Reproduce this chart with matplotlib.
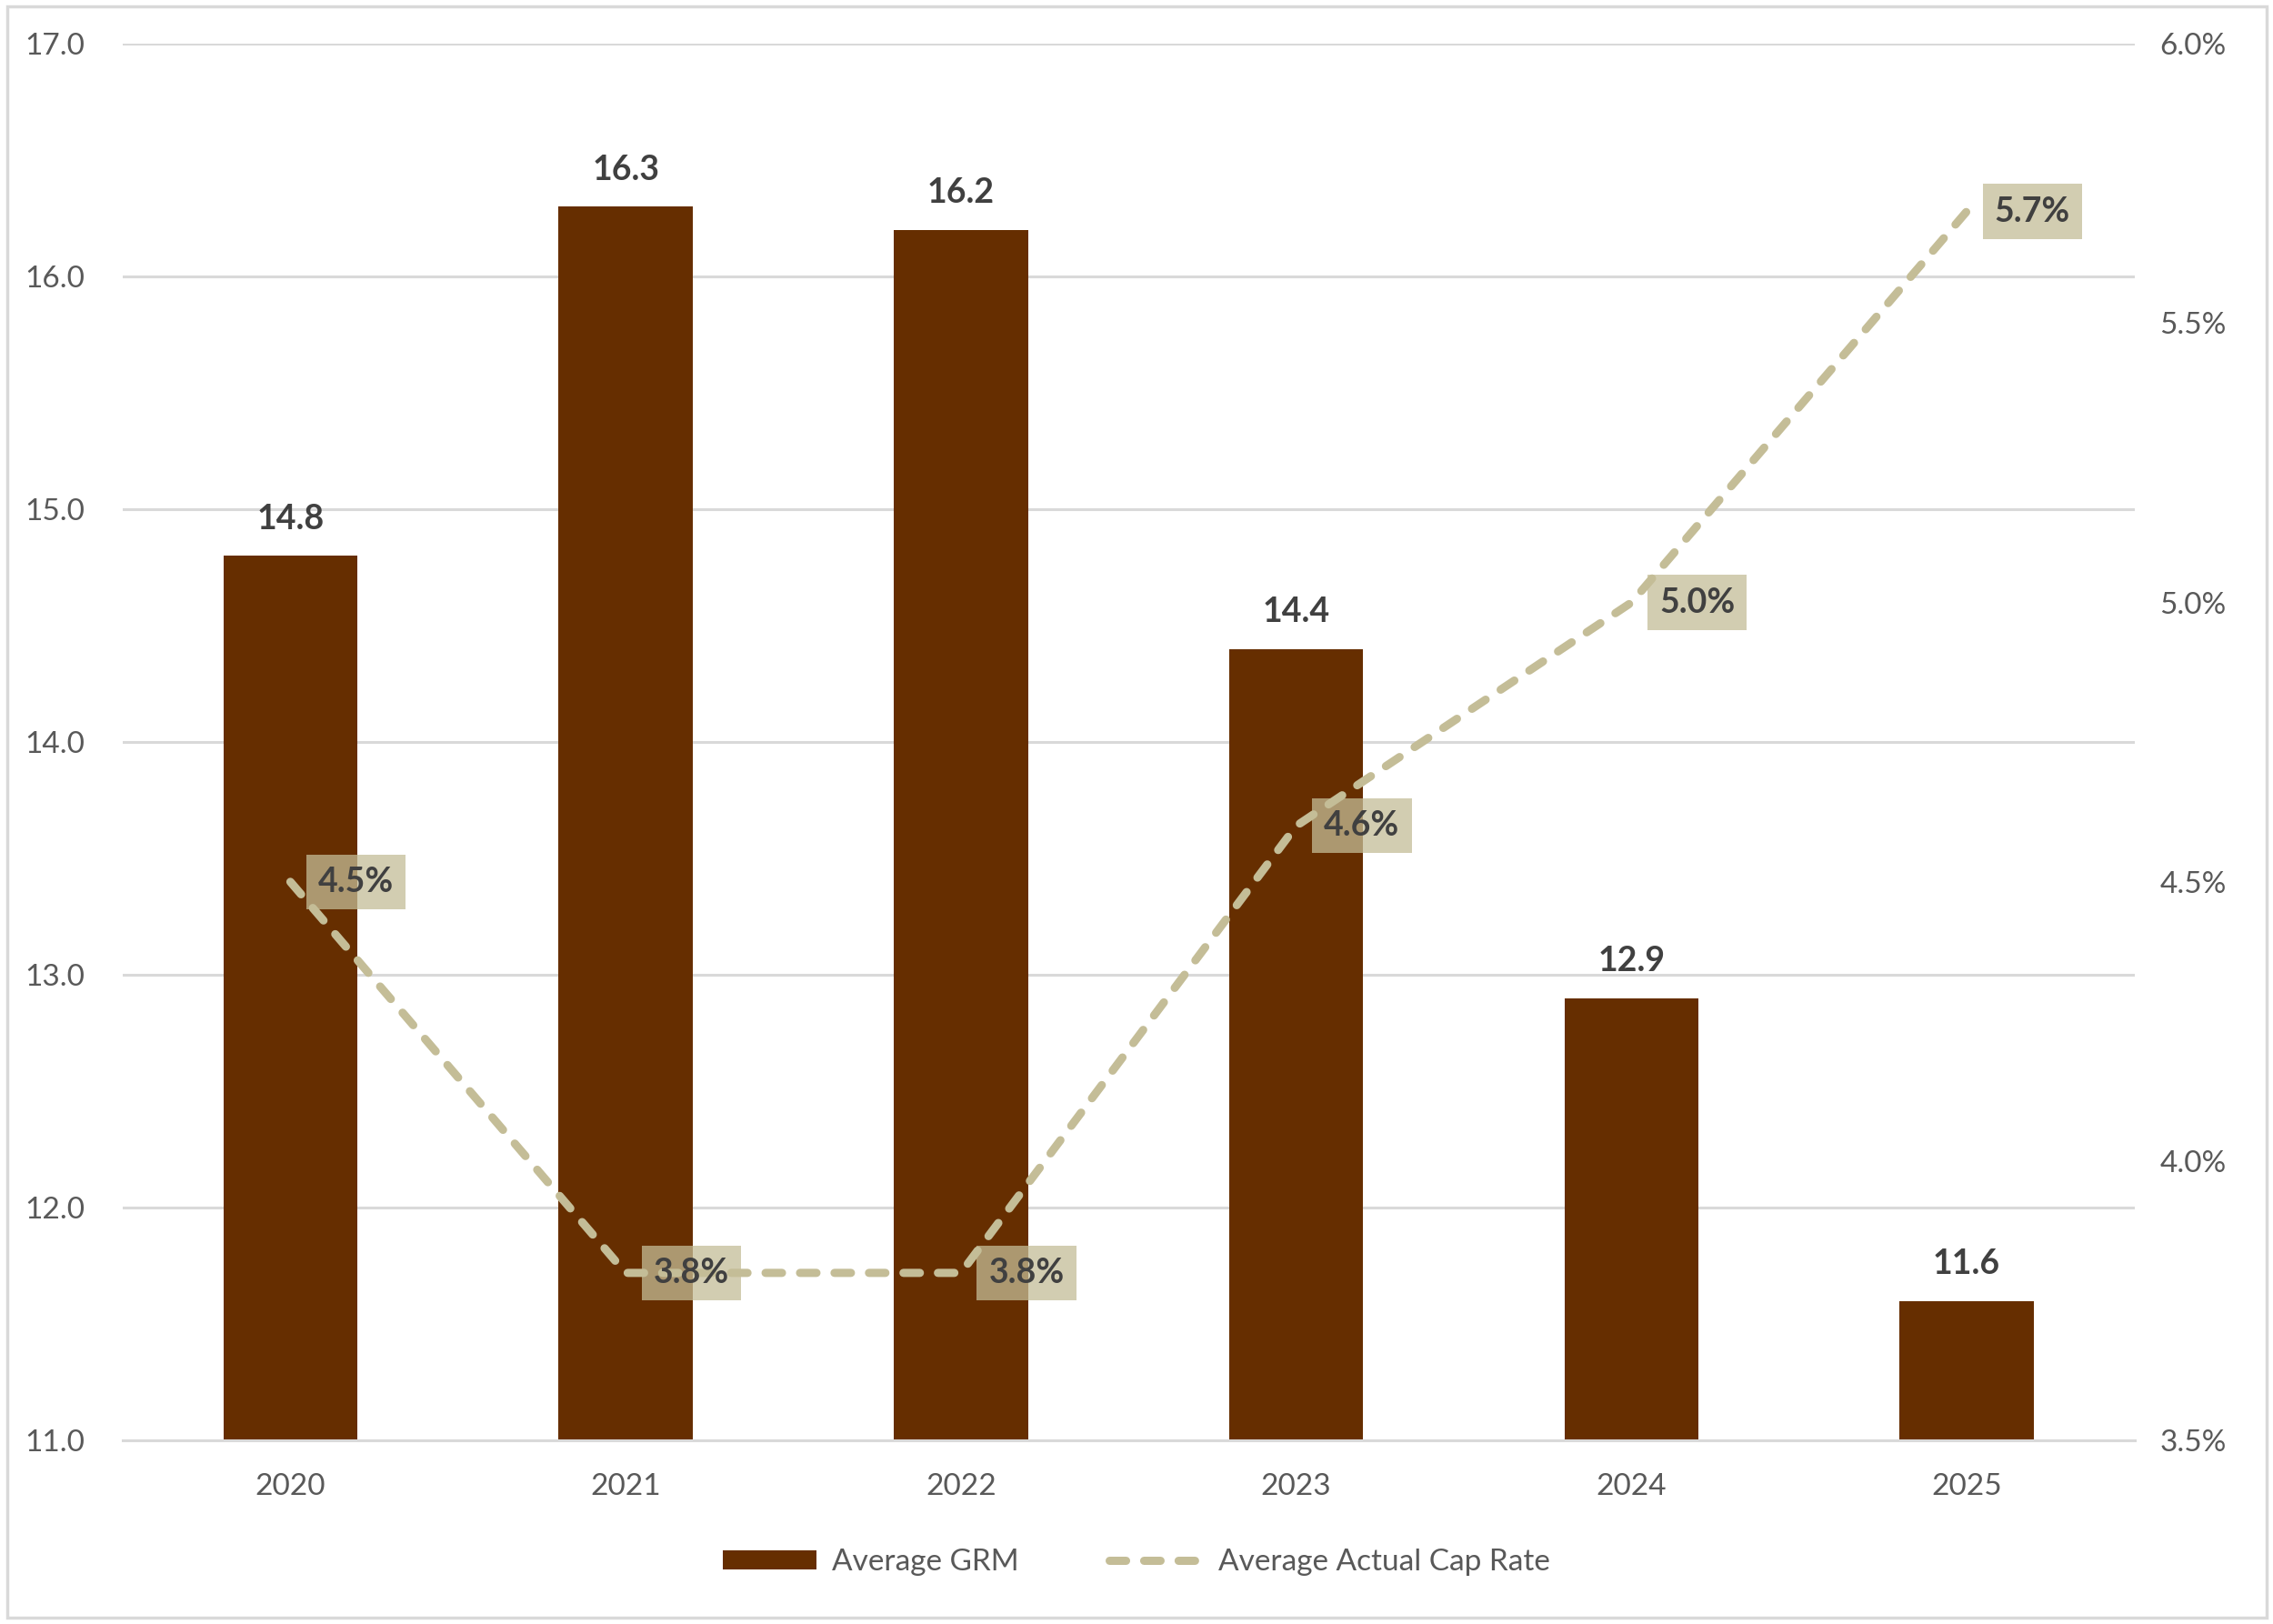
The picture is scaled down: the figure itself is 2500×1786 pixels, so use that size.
import matplotlib.pyplot as plt
from matplotlib.patches import Rectangle

years = ['2020', '2021', '2022', '2023', '2024', '2025']
grm = [14.8, 16.3, 16.2, 14.4, 12.9, 11.6]
cap_rate = [4.5, 3.8, 3.8, 4.6, 5.0, 5.7]

bar_color = '#662E00'
line_color = '#C4BD97'
text_color = '#404040'
tick_color = '#595959'

plt.rcParams['font.family'] = ['Lato', 'DejaVu Sans']

fig = plt.figure(figsize=(25, 17.86), dpi=100)
fig.patches.append(Rectangle((0.003, 0.004), 0.994, 0.992, transform=fig.transFigure,
                             fill=False, edgecolor='#D9D9D9', linewidth=2.5))

ax = fig.add_axes([0.054, 0.113, 0.885, 0.86])
x = list(range(len(years)))

ax.bar(x, grm, width=0.4, color=bar_color, zorder=2, label='Average GRM')
ax.set_ylim(11, 17)
ax.set_xlim(-0.5, len(years) - 0.5)
ax.set_yticks([11, 12, 13, 14, 15, 16, 17])
ax.set_yticklabels([f'{v:.1f}' for v in [11, 12, 13, 14, 15, 16, 17]])
ax.set_xticks(x)
ax.set_xticklabels(years)
ax.grid(axis='y', color='#D9D9D9', linewidth=2.2, zorder=0)
ax.set_axisbelow(True)
for s in ['top', 'right', 'left']:
    ax.spines[s].set_visible(False)
ax.spines['bottom'].set_color('#D9D9D9')
ax.spines['bottom'].set_linewidth(2.2)
ax.tick_params(axis='both', length=0, labelsize=24, labelcolor=tick_color)
ax.tick_params(axis='x', pad=26)
ax.tick_params(axis='y', pad=30)

for xi, v in zip(x, grm):
    ax.annotate(f'{v:.1f}', (xi, v), xytext=(0, 17), textcoords='offset points',
                ha='center', va='bottom', fontsize=27, fontweight='bold', color=text_color)

ax2 = ax.twinx()
ax2.plot(x, cap_rate, color=line_color, linewidth=6.5, linestyle=(0, (2.0, 2.2)),
         dash_capstyle='round', zorder=3, label='Average Actual Cap Rate')
ax2.set_ylim(3.5, 6.0)
ax2.set_yticks([3.5, 4.0, 4.5, 5.0, 5.5, 6.0])
ax2.set_yticklabels([f'{v:.1f}%' for v in [3.5, 4.0, 4.5, 5.0, 5.5, 6.0]])
for s in ['top', 'right', 'left', 'bottom']:
    ax2.spines[s].set_visible(False)
ax2.tick_params(axis='y', length=0, labelsize=24, labelcolor=tick_color, pad=20)

for xi, v in zip(x, cap_rate):
    ax2.annotate(f'{v:.1f}%', (xi, v), xytext=(22, 0), textcoords='offset points',
                 ha='left', va='center', fontsize=27, fontweight='bold', color=text_color,
                 bbox=dict(boxstyle='square,pad=0.35', facecolor=line_color, alpha=0.75,
                           edgecolor='none'), zorder=4)

h1, l1 = ax.get_legend_handles_labels()
h2, l2 = ax2.get_legend_handles_labels()
fig.legend(h1 + h2, l1 + l2, loc='center', bbox_to_anchor=(0.5, 0.038), ncol=2,
           frameon=False, fontsize=24, labelcolor=tick_color, handlelength=3.1,
           handleheight=0.6, columnspacing=3, handletextpad=0.5)

fig.savefig('out.png', dpi=100)
